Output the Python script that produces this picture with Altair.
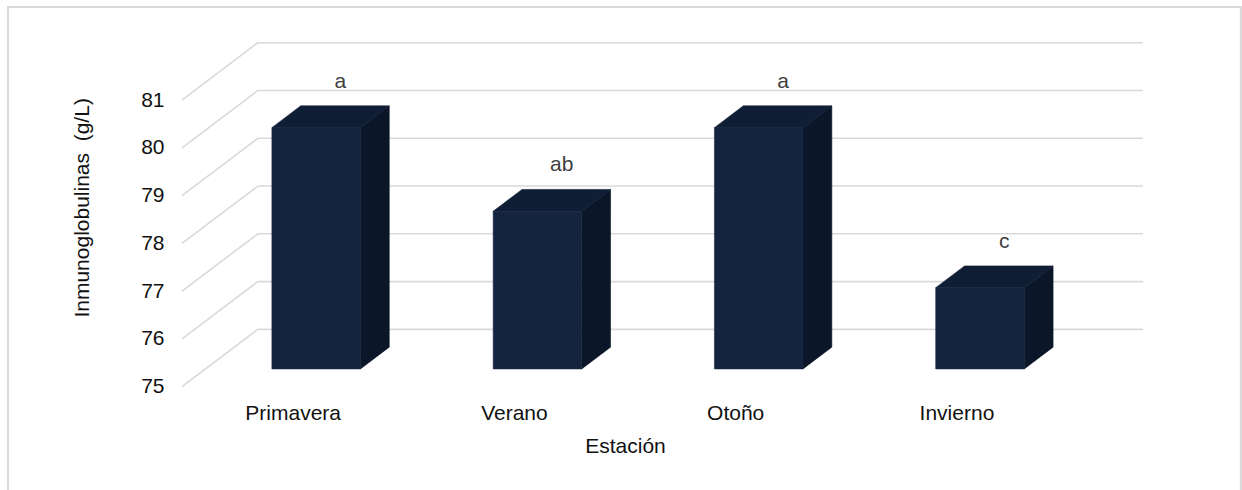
import altair as alt
import pandas as pd

# ---- data ----
estaciones = ["Primavera", "Verano", "Otoño", "Invierno"]
inmunoglobulinas = [80.05, 78.3, 80.05, 76.7]
letras = ["a", "ab", "a", "c"]
ticks_y = [75, 76, 77, 78, 79, 80, 81]

# ---- pseudo-3D projection (depth d in [0, 1]) ----
BASE = 75.0          # floor of the value axis
KX = 0.343           # x shift (category units) per unit depth
KY = 1.2             # y shift (value units) per unit depth
D0, D1 = 0.31, 0.69  # depth of the front and back faces of each column
HALF = 0.2           # half width of a column (category units)
X_MIN, X_MAX = -0.5, len(estaciones) - 0.5

FONT = "Liberation Sans"
FS = 21

front_rows, side_rows, top_rows, label_rows = [], [], [], []
for i, (cat, v, l) in enumerate(zip(estaciones, inmunoglobulinas, letras)):
    front_rows.append({
        "cat": cat,
        "x": i - HALF + KX * D0, "x2": i + HALF + KX * D0,
        "y": BASE + KY * D0, "y2": v + KY * D0,
    })
    for d in (D0, D1):
        side_rows.append({
            "cat": cat, "x": i + HALF + KX * d,
            "y": BASE + KY * d, "y2": v + KY * d,
        })
        top_rows.append({
            "cat": cat, "y": v + KY * d,
            "x": i - HALF + KX * d, "x2": i + HALF + KX * d,
        })
    label_rows.append({"cat": cat, "letra": l,
                       "x": i + KX * 0.63, "y": v + KY * D1})

front_df = pd.DataFrame(front_rows)
side_df = pd.DataFrame(side_rows)
top_df = pd.DataFrame(top_rows)
label_df = pd.DataFrame(label_rows)

back_grid = pd.DataFrame({
    "x": [X_MIN + KX] * len(ticks_y),
    "x2": [X_MAX + KX] * len(ticks_y),
    "y": [t + KY for t in ticks_y],
})
side_grid = pd.DataFrame({
    "x": [X_MIN] * len(ticks_y),
    "x2": [X_MIN + KX] * len(ticks_y),
    "y": [float(t) for t in ticks_y],
    "y2": [t + KY for t in ticks_y],
})
axis_df = pd.DataFrame({"x": [float(i) for i in range(len(estaciones))],
                        "y": [BASE] * len(estaciones)})

label_expr = "[" + ",".join(f"'{c}'" for c in estaciones) + "][datum.value]"

x_scale = alt.Scale(domain=[X_MIN, X_MAX + KX], nice=False, zero=False)
y_scale = alt.Scale(domain=[BASE, 82.5], nice=False, zero=False)

GRID = "#D9D9D9"
FRONT_C, TOP_C, SIDE_C = "#14243F", "#0F1D35", "#0B1628"

# category axis + value axis carried by an invisible layer
axes = alt.Chart(axis_df).mark_point(opacity=0).encode(
    x=alt.X("x:Q", scale=x_scale,
            axis=alt.Axis(values=list(range(len(estaciones))), labelExpr=label_expr,
                          title="Estación", grid=False, domain=False, ticks=False,
                          tickSize=0, labelPadding=16, labelFlush=False,
                          labelFont=FONT, labelFontSize=FS, labelColor="#111111",
                          titleFont=FONT, titleFontSize=FS, titleFontWeight="normal",
                          titleColor="#111111", titleX=443, titleY=65.6,
                          titleAlign="center", titleBaseline="alphabetic")),
    y=alt.Y("y:Q", scale=y_scale,
            axis=alt.Axis(values=ticks_y, title="Inmunoglobulinas\u00a0 (g/L)",
                          grid=False, domain=False, ticks=False, tickSize=0,
                          labelPadding=18, labelFlush=False,
                          labelFont=FONT, labelFontSize=FS, labelColor="#111111",
                          titleFont=FONT, titleFontSize=FS, titleFontWeight="normal",
                          titleColor="#111111", titleAngle=270, titleX=-100,
                          titleY=179, titleAlign="center", titleBaseline="middle")),
)

grid_back = alt.Chart(back_grid).mark_rule(color=GRID, strokeWidth=1.6).encode(
    x="x:Q", x2="x2:Q", y="y:Q")
grid_side = alt.Chart(side_grid).mark_rule(color=GRID, strokeWidth=1.6).encode(
    x="x:Q", x2="x2:Q", y="y:Q", y2="y2:Q")

side = alt.Chart(side_df).mark_area(
    color=SIDE_C, stroke=SIDE_C, strokeWidth=0.6, opacity=1
).encode(x="x:Q", y="y:Q", y2="y2:Q", detail="cat:N")
top = alt.Chart(top_df).mark_area(
    color=TOP_C, stroke=TOP_C, strokeWidth=0.6, opacity=1, orient="horizontal"
).encode(y="y:Q", x="x:Q", x2="x2:Q", detail="cat:N")
front = alt.Chart(front_df).mark_rect(
    color=FRONT_C, stroke=FRONT_C, strokeWidth=0.6
).encode(x="x:Q", x2="x2:Q", y="y:Q", y2="y2:Q")

labels = alt.Chart(label_df).mark_text(
    font=FONT, fontSize=FS, color="#404040", dy=-24, baseline="middle"
).encode(x="x:Q", y="y:Q", text="letra:N")

# outer chart-area frame
frame = alt.Chart(axis_df).mark_rect(
    fill=None, stroke=GRID, strokeWidth=1.5
).encode(x=alt.value(-174), x2=alt.value(1058.7),
         y=alt.value(-21.3), y2=alt.value(520))

chart = alt.layer(
    frame, grid_back, grid_side, axes, side, top, front, labels
).properties(
    width=961, height=358.35,
    autosize=alt.AutoSizeParams(type="none"),
    padding={"left": 182, "top": 28.35, "right": 99, "bottom": 103.3},
    background="white",
).configure_view(stroke=None)

chart.save("out.html", embed_options={"renderer": "svg", "actions": False})
